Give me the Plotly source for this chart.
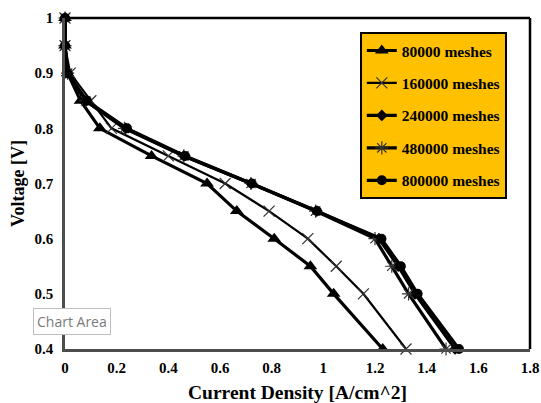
import plotly.graph_objects as go

voltage = [1.0, 0.95, 0.9, 0.85, 0.8, 0.75, 0.7, 0.65, 0.6, 0.55, 0.5, 0.4]
cd_80000 = [0.0, 0.0, 0.01, 0.06, 0.135, 0.335, 0.55, 0.665, 0.81, 0.95, 1.04, 1.23]
cd_160000 = [0.0, 0.0, 0.02, 0.10, 0.18, 0.40, 0.62, 0.79, 0.94, 1.05, 1.155, 1.32]
cd_240000 = [0.0, 0.0, 0.01, 0.08, 0.235, 0.46, 0.72, 0.975, 1.215, 1.29, 1.355, 1.51]
cd_480000 = [0.0, 0.0, 0.01, 0.08, 0.23, 0.46, 0.72, 0.97, 1.20, 1.265, 1.33, 1.475]
cd_800000 = [0.0, 0.0, 0.01, 0.085, 0.24, 0.465, 0.723, 0.975, 1.225, 1.30, 1.365, 1.525]

x_ticks = [0, 0.2, 0.4, 0.6, 0.8, 1.0, 1.2, 1.4, 1.6, 1.8]
x_tick_labels = ["0", "0.2", "0.4", "0.6", "0.8", "1", "1.2", "1.4", "1.6", "1.8"]
y_ticks = [0.4, 0.5, 0.6, 0.7, 0.8, 0.9, 1.0]
y_tick_labels = ["0.4", "0.5", "0.6", "0.7", "0.8", "0.9", "1"]

series = [
    ("80000 meshes", cd_80000, "triangle-up", 12, 3.2),
    ("160000 meshes", cd_160000, "x-thin", 11, 2.2),
    ("240000 meshes", cd_240000, "diamond", 9, 3.2),
    ("480000 meshes", cd_480000, "asterisk", 11, 3.2),
    ("800000 meshes", cd_800000, "circle", 10, 3.2),
]

serif = "Liberation Serif"
fig = go.Figure()
for i, (name, xs, sym, size, lw) in enumerate(series):
    thin = sym in ("x-thin", "asterisk")
    fig.add_trace(go.Scatter(
        x=xs, y=voltage, name=f"<b>{name}</b>", mode="lines+markers",
        legendgroup=f"g{i}",
        line=dict(color="black", width=lw),
        marker=dict(symbol=sym, size=size, color="black",
                    line=dict(color="#333333" if thin else "black", width=1.2 if thin else 0)),
        cliponaxis=False,
    ))

tickfont = dict(family=serif, size=15, color="black")
fig.update_layout(
    width=541, height=403,
    margin=dict(l=65, r=11, t=18, b=54),
    paper_bgcolor="white", plot_bgcolor="white",
    font=dict(family=serif, color="black", size=13),
    showlegend=True,
    legend=dict(
        x=0.634, y=0.958, xanchor="left", yanchor="top",
        bgcolor="#FFC000", bordercolor="black", borderwidth=2,
        font=dict(family=serif, size=15.5, color="black"),
        tracegroupgap=9.3, itemwidth=30,
    ),
    xaxis=dict(
        range=[0, 1.8], tickvals=x_ticks,
        ticktext=[f"<b>{t}</b>" for t in x_tick_labels],
        showgrid=False, zeroline=False, automargin=False,
        showline=True, linecolor="#4d4d4d", linewidth=2.5,
        ticks="", tickfont=tickfont, ticklabelstandoff=3,
        title=dict(text="<b>Current Density [A/cm^2]</b>", standoff=12,
                   font=dict(family=serif, size=19.5, color="black")),
    ),
    yaxis=dict(
        range=[0.4, 1.0], tickvals=y_ticks,
        ticktext=[f"<b>{t}</b>" for t in y_tick_labels],
        showgrid=False, zeroline=False, automargin=False,
        showline=True, linecolor="#4d4d4d", linewidth=2.5,
        ticks="", tickfont=tickfont, ticklabelstandoff=6,
        title=dict(text="<b>Voltage [V]</b>", standoff=6,
                   font=dict(family=serif, size=18, color="black")),
    ),
    shapes=[
        dict(type="line", xref="paper", yref="paper", x0=0, x1=1, y0=1, y1=1,
             line=dict(color="black", width=2.5)),
        dict(type="line", xref="paper", yref="paper", x0=1, x1=1, y0=0, y1=1,
             line=dict(color="black", width=2.5)),
    ],
    annotations=[
        dict(text="Chart Area", xref="paper", yref="paper",
             x=-0.068, y=0.082, xanchor="left", yanchor="middle",
             showarrow=False, bgcolor="white", bordercolor="#bdbdbd",
             borderwidth=1, borderpad=3,
             font=dict(family="Open Sans", size=14, color="#7a7a7a")),
    ],
)

fig.write_html("out.html")
